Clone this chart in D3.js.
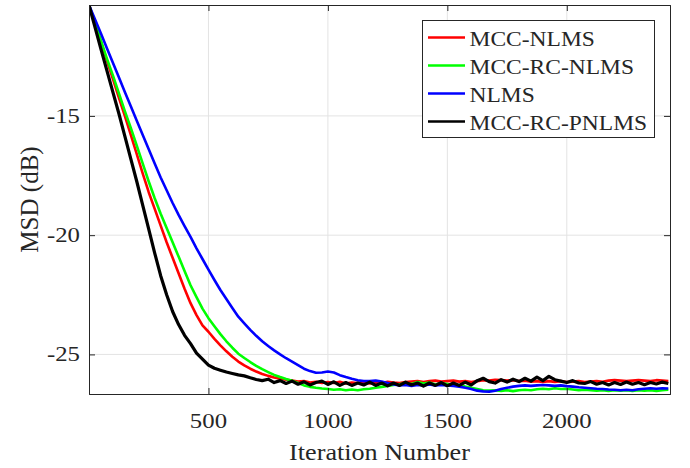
<!DOCTYPE html>
<html>
<head>
<meta charset="utf-8">
<script src="https://cdn.jsdelivr.net/npm/d3@7"></script>
<style>
  html, body { margin: 0; padding: 0; background: #fff; }
  svg { display: block; }
  text { font-family: "Liberation Serif", "Times New Roman", serif; fill: #262626; }
</style>
</head>
<body>
<svg id="chart" width="690" height="468"></svg>
<script>
// ---------- DATA ----------
const iterStep = 25;
const iterations = d3.range(0, 2450, iterStep); // 0 .. 2425
const xTicks = [500, 1000, 1500, 2000];
const yTicks = [-15, -20, -25];
const xTickLabels = ["500", "1000", "1500", "2000"];
const yTickLabels = ["-15", "-20", "-25"];
const seriesNames = ["MCC-NLMS", "MCC-RC-NLMS", "NLMS", "MCC-RC-PNLMS"];
const seriesColors = ["#ff0000", "#00ff00", "#0000ff", "#000000"];

const mccNlms = [
  -10.35,-11.13,-11.9,-12.68,-13.45,-14.23,-15.0,-15.8,-16.6,-17.42,
  -18.2,-18.9,-19.6,-20.3,-20.95,-21.6,-22.25,-22.85,-23.35,-23.78,
  -24.05,-24.35,-24.62,-24.87,-25.1,-25.3,-25.46,-25.6,-25.72,-25.82,
  -25.9,-25.97,-26.02,-26.06,-26.1,-26.14,-26.12,-26.18,-26.15,-26.2,
  -26.16,-26.2,-26.15,-26.22,-26.18,-26.2,-26.16,-26.22,-26.18,-26.2,
  -26.15,-26.18,-26.2,-26.16,-26.14,-26.12,-26.16,-26.12,-26.1,-26.14,
  -26.12,-26.1,-26.14,-26.12,-26.16,-26.12,-26.08,-26.1,-26.06,-26.08,
  -26.1,-26.08,-26.12,-26.1,-26.14,-26.12,-26.16,-26.12,-26.15,-26.12,
  -26.16,-26.14,-26.12,-26.16,-26.14,-26.12,-26.15,-26.1,-26.08,-26.1,
  -26.12,-26.1,-26.08,-26.1,-26.12,-26.08,-26.1,-26.12
];
const mccRcNlms = [
  -10.35,-11.1,-11.85,-12.6,-13.3,-14.05,-14.8,-15.5,-16.25,-17.0,
  -17.75,-18.45,-19.1,-19.7,-20.3,-20.9,-21.5,-22.1,-22.6,-23.08,
  -23.48,-23.82,-24.15,-24.45,-24.72,-24.97,-25.15,-25.32,-25.48,-25.62,
  -25.74,-25.86,-25.95,-26.03,-26.1,-26.2,-26.3,-26.36,-26.4,-26.43,
  -26.45,-26.48,-26.46,-26.5,-26.47,-26.5,-26.46,-26.44,-26.4,-26.36,
  -26.32,-26.28,-26.25,-26.2,-26.24,-26.16,-26.22,-26.18,-26.26,-26.2,
  -26.24,-26.3,-26.28,-26.35,-26.4,-26.45,-26.5,-26.52,-26.5,-26.53,
  -26.5,-26.54,-26.5,-26.48,-26.5,-26.46,-26.44,-26.46,-26.42,-26.45,
  -26.44,-26.47,-26.5,-26.48,-26.5,-26.52,-26.5,-26.53,-26.5,-26.52,
  -26.5,-26.53,-26.5,-26.52,-26.5,-26.53,-26.5,-26.48
];
const nlms = [
  -10.35,-10.95,-11.55,-12.16,-12.77,-13.38,-14.0,-14.6,-15.2,-15.8,
  -16.4,-17.0,-17.58,-18.12,-18.65,-19.15,-19.62,-20.07,-20.55,-21.0,
  -21.45,-21.88,-22.3,-22.68,-23.05,-23.42,-23.7,-23.97,-24.22,-24.45,
  -24.65,-24.83,-25.0,-25.16,-25.3,-25.45,-25.6,-25.7,-25.77,-25.76,
  -25.72,-25.76,-25.87,-25.95,-26.02,-26.08,-26.12,-26.12,-26.1,-26.14,
  -26.2,-26.26,-26.3,-26.28,-26.32,-26.28,-26.3,-26.26,-26.3,-26.28,
  -26.3,-26.32,-26.35,-26.4,-26.45,-26.52,-26.55,-26.56,-26.52,-26.45,
  -26.4,-26.35,-26.32,-26.3,-26.32,-26.3,-26.28,-26.3,-26.32,-26.3,
  -26.33,-26.35,-26.38,-26.4,-26.42,-26.44,-26.45,-26.47,-26.48,-26.5,
  -26.48,-26.5,-26.46,-26.44,-26.42,-26.44,-26.42,-26.43
];
const mccRcPnlms = [
  -10.35,-11.28,-12.2,-13.1,-14.0,-14.9,-15.85,-16.8,-17.75,-18.75,
  -19.75,-20.75,-21.7,-22.5,-23.2,-23.75,-24.2,-24.55,-24.95,-25.2,
  -25.45,-25.58,-25.66,-25.74,-25.8,-25.86,-25.9,-25.98,-26.05,-26.1,
  -26.04,-26.18,-26.1,-26.22,-26.12,-26.25,-26.15,-26.28,-26.18,-26.12,
  -26.26,-26.15,-26.3,-26.18,-26.3,-26.2,-26.28,-26.16,-26.3,-26.2,
  -26.32,-26.2,-26.3,-26.16,-26.28,-26.2,-26.33,-26.2,-26.3,-26.18,
  -26.32,-26.2,-26.3,-26.16,-26.28,-26.1,-26.0,-26.14,-26.2,-26.06,
  -26.16,-26.04,-26.14,-26.0,-26.12,-25.95,-26.1,-25.92,-26.06,-26.12,
  -26.18,-26.1,-26.2,-26.22,-26.14,-26.25,-26.18,-26.28,-26.18,-26.26,
  -26.16,-26.25,-26.18,-26.27,-26.18,-26.24,-26.16,-26.22
];
const allSeries = [mccNlms, mccRcNlms, nlms, mccRcPnlms];

// ---------- LAYOUT ----------
const plot = { left: 89, top: 5, right: 670, bottom: 394 };
const axisColor = "#262626";

const svg = d3.select("#chart");
const x = d3.scaleLinear().domain([0, 2432]).range([plot.left, plot.right]);
const y = d3.scaleLinear().domain([-26.66, -10.35]).range([plot.bottom, plot.top]);

// clip
svg.append("defs").append("clipPath").attr("id", "clip")
  .append("rect").attr("x", plot.left).attr("y", plot.top)
  .attr("width", plot.right - plot.left).attr("height", plot.bottom - plot.top);

// grid
const grid = svg.append("g");
grid.selectAll(".gx").data(xTicks).join("line")
  .attr("x1", d => x(d)).attr("x2", d => x(d))
  .attr("y1", plot.top).attr("y2", plot.bottom)
  .attr("stroke", "#e3e3e3").attr("stroke-width", 1);
grid.selectAll(".gy").data(yTicks).join("line")
  .attr("x1", plot.left).attr("x2", plot.right)
  .attr("y1", d => y(d)).attr("y2", d => y(d))
  .attr("stroke", "#e3e3e3").attr("stroke-width", 1);

// lines
const line = d3.line().x((d, i) => x(iterations[i])).y(d => y(d));
const lines = svg.append("g").attr("clip-path", "url(#clip)");
allSeries.forEach((s, k) => {
  lines.append("path").datum(s)
    .attr("d", line)
    .attr("fill", "none")
    .attr("stroke", seriesColors[k])
    .attr("stroke-width", k === 3 ? 3.2 : 2.6)
    .attr("stroke-linejoin", "round");
});

// axes (box with inward ticks)
const tickLen = -6;
svg.append("g").attr("transform", `translate(0,${plot.bottom})`)
  .call(d3.axisBottom(x).tickValues(xTicks).tickSize(tickLen).tickFormat(""));
svg.append("g").attr("transform", `translate(0,${plot.top})`)
  .call(d3.axisTop(x).tickValues(xTicks).tickSize(tickLen).tickFormat(""));
svg.append("g").attr("transform", `translate(${plot.left},0)`)
  .call(d3.axisLeft(y).tickValues(yTicks).tickSize(tickLen).tickFormat(""));
svg.append("g").attr("transform", `translate(${plot.right},0)`)
  .call(d3.axisRight(y).tickValues(yTicks).tickSize(tickLen).tickFormat(""));
svg.selectAll(".domain").attr("stroke", axisColor).attr("stroke-width", 1);
svg.selectAll(".tick line").attr("stroke", axisColor).attr("stroke-width", 1);

// helper for horizontally stretched text
function label(g, tx, ty, str, size, sx, anchor, rot) {
  const t = g.append("g").attr("transform", `translate(${tx},${ty})${rot ? ` rotate(${rot})` : ""} scale(${sx},1)`);
  t.append("text").attr("font-size", size).attr("text-anchor", anchor).text(str);
  return t;
}

const txt = svg.append("g");
xTicks.forEach((v, i) => label(txt, x(v), 428, xTickLabels[i], 21, 1.18, "middle"));
yTicks.forEach((v, i) => label(txt, 80, y(v) + 7, yTickLabels[i], 21, 1.18, "end"));

label(txt, (plot.left + plot.right) / 2, 460, "Iteration Number", 24, 1.09, "middle");
label(txt, 38, (plot.top + plot.bottom) / 2, "MSD (dB)", 25, 1.0, "middle", -90);

// legend
const leg = svg.append("g");
leg.append("rect").attr("x", 422.5).attr("y", 20.5).attr("width", 232).attr("height", 117)
  .attr("fill", "#fff").attr("stroke", axisColor).attr("stroke-width", 1);
const rowY = d3.scaleLinear().domain([0, 3]).range([37.5, 121.5]);
seriesNames.forEach((n, k) => {
  leg.append("line").attr("x1", 428).attr("x2", 465)
    .attr("y1", rowY(k)).attr("y2", rowY(k))
    .attr("stroke", seriesColors[k]).attr("stroke-width", 2.6);
  label(leg, 469.5, rowY(k) + 8, n, 21, 1.12, "start");
});
</script>
</body>
</html>
